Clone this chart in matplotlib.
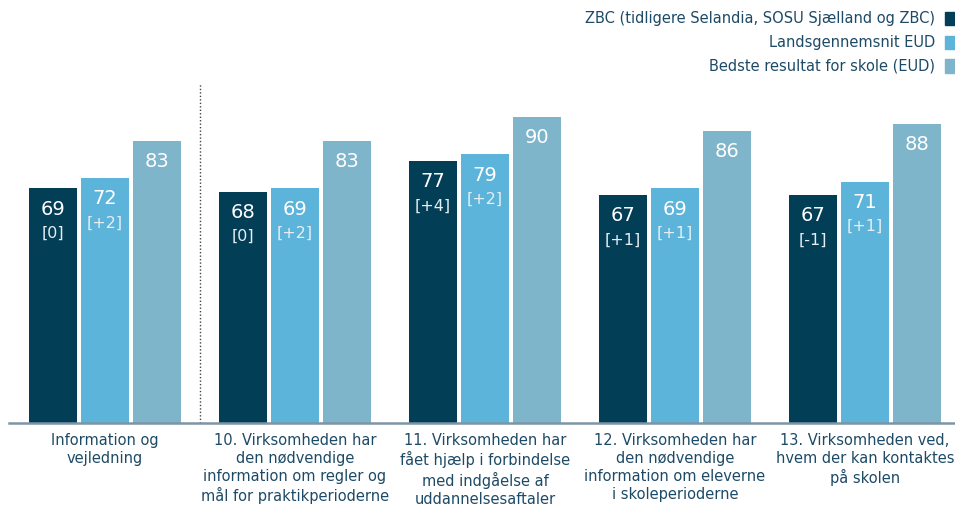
"""Grouped bar chart: virksomhedernes vurdering af information og vejledning."""

import matplotlib.pyplot as plt
import numpy as np
from matplotlib.patches import Rectangle

TEXT_COLOR = "#1d4a66"
AXIS_COLOR = "#7f95a6"

categories = [
    "Information og\nvejledning",
    "10. Virksomheden har\nden nødvendige\ninformation om regler og\nmål for praktikperioderne",
    "11. Virksomheden har\nfået hjælp i forbindelse\nmed indgåelse af\nuddannelsesaftaler",
    "12. Virksomheden har\nden nødvendige\ninformation om eleverne\ni skoleperioderne",
    "13. Virksomheden ved,\nhvem der kan kontaktes\npå skolen",
]
series_names = [
    "ZBC (tidligere Selandia, SOSU Sjælland og ZBC)",
    "Landsgennemsnit EUD",
    "Bedste resultat for skole (EUD)",
]
zbc = [69, 68, 77, 67, 67]
zbc_change = ["[0]", "[0]", "[+4]", "[+1]", "[-1]"]
lands = [72, 69, 79, 69, 71]
lands_change = ["[+2]", "[+2]", "[+2]", "[+1]", "[+1]"]
best = [83, 83, 90, 86, 88]
colors = ["#033e57", "#5cb4da", "#7fb5ca"]

W, H = 955, 507


def main():
    plt.rcParams["font.family"] = ["DejaVu Sans"]
    fig = plt.figure(figsize=(W / 100, H / 100), dpi=100)
    ax = fig.add_axes([9 / W, 84 / H, 946 / W, 340 / H])

    x = np.arange(len(categories))
    step = 52 / 190
    width = 48 / 190
    series = [(zbc, zbc_change), (lands, lands_change), (best, None)]
    for i, (vals, changes) in enumerate(series):
        xs = x + (i - 1) * step
        ax.bar(xs, vals, width=width, color=colors[i])
        for j, v in enumerate(vals):
            ax.text(xs[j], v - 6.1, f"{v}", ha="center", va="center",
                    color="white", fontsize=14)
            if changes is not None:
                ax.text(xs[j], v - 13.2, changes[j], ha="center", va="center",
                        color="#e6eef2", fontsize=11.5)

    ax.axvline(0.5, ymin=0, ymax=1, color="#444444", linestyle=(0, (1, 1.5)),
               linewidth=1)

    ax.set_xlim(-96 / 190, 4 + 90 / 190)
    ax.set_ylim(0, 100)
    ax.set_xticks(x)
    ax.set_xticklabels(categories, fontsize=10.5, color=TEXT_COLOR, linespacing=1.25)
    ax.tick_params(axis="x", length=0, pad=7)
    ax.set_yticks([])
    for side in ["left", "right", "top"]:
        ax.spines[side].set_visible(False)
    ax.spines["bottom"].set_color(AXIS_COLOR)
    ax.spines["bottom"].set_linewidth(1.8)

    # legend, right-aligned with the colour swatch to the right of the text
    for i, name in enumerate(series_names):
        y = 1 - (19 + 23.5 * i) / H
        fig.text(935 / W, y, name, ha="right", va="center", fontsize=10.5,
                 color=TEXT_COLOR)
        fig.patches.append(Rectangle((945 / W, y - 6.5 / H), 10 / W, 13 / H,
                                     transform=fig.transFigure, color=colors[i]))

    fig.savefig("out.png", dpi=100)


if __name__ == "__main__":
    main()
